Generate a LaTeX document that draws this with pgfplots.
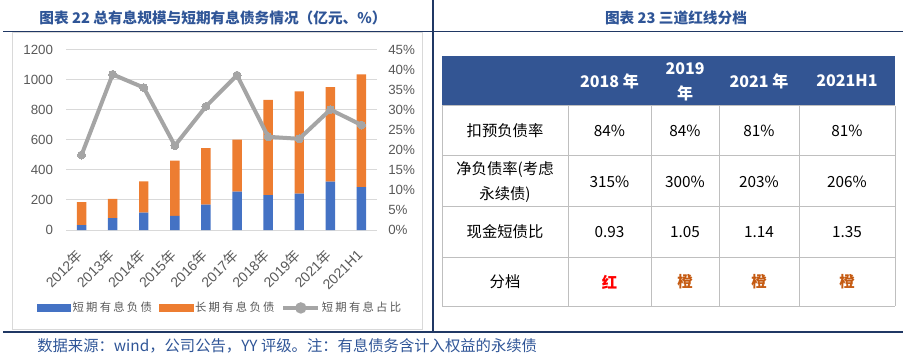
\documentclass[border=0pt]{standalone}
\usepackage{pgfplots}
\usepackage{pgfplotstable}
\pgfplotsset{compat=1.18}
\usepackage{fontspec}
\setmainfont{Liberation Sans}
\newfontfamily\cjk{Noto Sans CJK SC}
\newfontfamily\cjkleg[LetterSpace=20]{Noto Sans CJK SC}
\definecolor{cblue}{HTML}{4472C4}
\definecolor{corange}{HTML}{ED7D31}
\definecolor{cgray}{HTML}{A5A5A5}
\definecolor{tgray}{HTML}{595959}
\definecolor{gridc}{HTML}{D9D9D9}
\definecolor{titleblue}{HTML}{2F5597}
\definecolor{navy}{HTML}{203864}
\definecolor{hdr}{HTML}{335593}
\definecolor{tline}{HTML}{BFBFBF}
\definecolor{orangetxt}{HTML}{C55A11}
\pgfplotstableread{
x short long ratio
0 33 152 18.75
1 80 127 38.9
2 115 209 35.6
3 95 367 21.1
4 169 377 30.9
5 255 347 38.7
6 233 634 23.3
7 242 682 22.8
8 322 631 30.1
9 286 751 26.25
}\datatable
\begin{document}
\begin{tikzpicture}[x=0.75pt,y=-0.75pt]
\useasboundingbox (0,0) rectangle (909,363);
% frames and rules
\draw[gridc, line width=0.75pt] (12.5,32.5) rectangle (422.5,329.5);
\draw[navy, line width=1.1pt] (3,31.5) -- (903,31.5);
\draw[navy, line width=1.1pt] (3,332) -- (903,332);
\draw[navy, line width=1.1pt] (433,0) -- (433,332);
% titles
\node[font=\cjk\bfseries\fontsize{11}{13}\selectfont, text=titleblue] at (213,18) {图表 22 总有息规模与短期有息债务情况（亿元、\%）};
\node[font=\cjk\bfseries\fontsize{11}{13}\selectfont, text=titleblue] at (676,18) {图表 23 三道红线分档};
\node[anchor=west, font=\cjk\fontsize{11.5}{13}\selectfont, text=titleblue, inner sep=0pt] at (37,346) {数据来源：wind，公司公告，YY 评级。注：有息债务含计入权益的永续债};
% left axis: bars
\begin{axis}[
  at={(49.5pt,-172.5pt)}, anchor=south west,
  scale only axis, width=233.25pt, height=135pt,
  xmin=-0.5, xmax=9.5, ymin=0, ymax=1200,
  ytick={0,200,...,1200},
  xtick={0,...,9},
  xticklabels={2012{\cjk 年},2013{\cjk 年},2014{\cjk 年},2015{\cjk 年},2016{\cjk 年},2017{\cjk 年},2018{\cjk 年},2019{\cjk 年},2021{\cjk 年},2021H1},
  x tick label style={xshift=-1pt, yshift=-17pt, rotate=45, anchor=east, inner sep=0pt, font=\fontsize{10.5}{12}\selectfont, text=tgray},
  y tick label style={inner sep=0pt, xshift=-9.5pt, font=\fontsize{10}{12}\selectfont, text=tgray},
  axis line style={draw=none}, tick style={draw=none},
  ymajorgrids, grid style={gridc, line width=0.75pt},
  ybar stacked, bar width=7.1pt,
  /pgf/number format/assume math mode=true,
  /pgf/number format/1000 sep={},
]
\addplot[fill=cblue, draw=none] table[x=x,y=short]{\datatable};
\addplot[fill=corange, draw=none] table[x=x,y=long]{\datatable};
\end{axis}
% right axis: line
\begin{axis}[
  at={(49.5pt,-172.5pt)}, anchor=south west,
  scale only axis, width=233.25pt, height=135pt,
  xmin=-0.5, xmax=9.5, ymin=0, ymax=45,
  ytick={0,5,...,45}, xtick=\empty,
  ytick pos=right, yticklabel pos=right,
  yticklabel={\pgfmathprintnumber{\tick}\%},
  y tick label style={anchor=west, inner sep=0pt, xshift=8.25pt, font=\fontsize{10}{12}\selectfont, text=tgray},
  axis line style={draw=none}, tick style={draw=none},
  /pgf/number format/assume math mode=true,
  legend columns=3,
  legend style={at={(0.495,-0.433)}, anchor=center, draw=none, fill=none,
    font=\cjkleg\fontsize{8.5}{10}\selectfont, text=tgray,
    /tikz/every even column/.append style={column sep=4pt},
    nodes={inner sep=1.5pt}},
]
\addlegendimage{legend image code/.code={\fill[cblue] (0pt,-2.6pt) rectangle (25pt,2.6pt);}}
\addlegendentry{短期有息负债}
\addlegendimage{legend image code/.code={\fill[corange] (0pt,-2.6pt) rectangle (25pt,2.6pt);}}
\addlegendentry{长期有息负债}
\addplot[color=cgray, line width=3pt, mark=*, mark size=3pt, mark options={fill=cgray, draw=cgray, line width=0pt},
  legend image code/.code={\draw[cgray, line width=2.5pt] (0pt,0pt) -- (26pt,0pt); \fill[cgray] (13pt,0pt) circle (2.7pt);}]
  table[x=x,y=ratio]{\datatable};
\addlegendentry{短期有息占比}
\end{axis}
% table
\fill[hdr] (442,56) rectangle (895,106);
\foreach \yy in {106,156,207,257,306} \draw[tline, line width=0.75pt] (442,\yy) -- (895,\yy);
\foreach \xx in {442,568,651,719,799,895} \draw[tline, line width=0.75pt] (\xx,106) -- (\xx,306);
\begin{scope}[every node/.style={font=\cjk\bfseries\fontsize{12}{18.75}\selectfont, text=white, align=center}]
\node at (609.5,81) {2018 年};
\node at (685,81.5) {2019\\年};
\node at (759,81) {2021 年};
\node at (847,81) {2021H1};
\end{scope}
\begin{scope}[every node/.style={font=\cjk\fontsize{11.5}{18.75}\selectfont, text=black, align=center}]
\node at (505,131) {扣预负债率};
\node at (609.5,131) {84\%};
\node at (685,131) {84\%};
\node at (759,131) {81\%};
\node at (847,131) {81\%};
\node at (505,182) {净负债率(考虑\\永续债)};
\node at (609.5,182) {315\%};
\node at (685,182) {300\%};
\node at (759,182) {203\%};
\node at (847,182) {206\%};
\node at (505,232) {现金短债比};
\node at (609.5,232) {0.93};
\node at (685,232) {1.05};
\node at (759,232) {1.14};
\node at (847,232) {1.35};
\node at (505,282) {分档};
\node[font=\cjk\bfseries\fontsize{11.5}{14}\selectfont, text=red] at (609.5,282) {红};
\node[font=\cjk\bfseries\fontsize{11.5}{14}\selectfont, text=orangetxt] at (685,282) {橙};
\node[font=\cjk\bfseries\fontsize{11.5}{14}\selectfont, text=orangetxt] at (759,282) {橙};
\node[font=\cjk\bfseries\fontsize{11.5}{14}\selectfont, text=orangetxt] at (847,282) {橙};
\end{scope}
\end{tikzpicture}
\end{document}
